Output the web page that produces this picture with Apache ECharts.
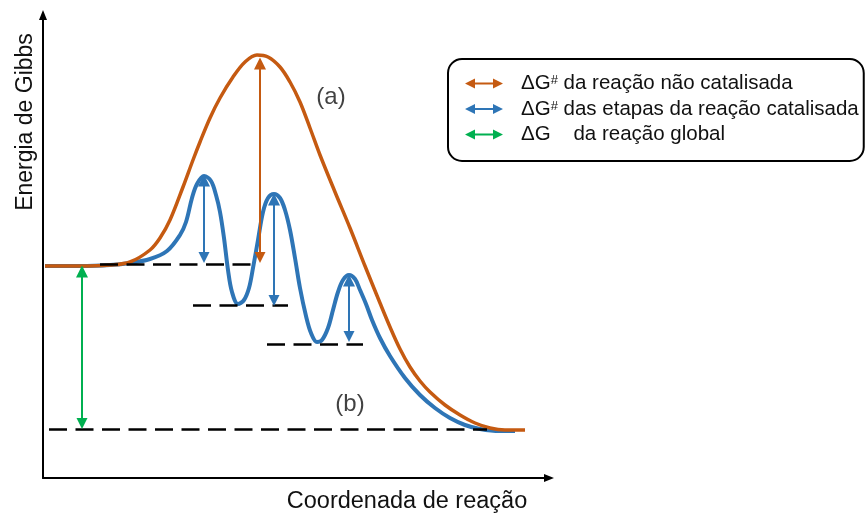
<!DOCTYPE html>
<html><head><meta charset="utf-8">
<script src="https://cdn.jsdelivr.net/npm/echarts@6/dist/echarts.min.js"></script>
<style>html,body{margin:0;padding:0;background:#fff}#c{width:868px;height:514px}</style>
</head><body><div id="c"></div>
<script>
// Reaction coordinate (x) vs Gibbs energy (y), arbitrary units
const uncatalysedPath = [[2,212],[37,212],[67,213],[87,216],[107,228],[117,240],[127,258],[140,291],[150,318],[157,336],[167,360],[177,380],[190,401],[202,416],[214,423],[225,421],[237,411],[247,396],[257,376],[267,350],[277,323],[292,286],[307,250],[322,212],[337,175],[347,151],[357,129],[367,111],[377,97],[387,86],[402,73],[417,63],[432,55],[447,50],[462,48],[482,48]];
const catalysedPath = [[2,212],[37,212],[67,213],[87,215],[107,219],[124,227],[137,243],[143,256],[149,280],[154,294],[161,302],[168,297],[173,283],[177,266],[181,240],[185,208],[189,186],[195,174],[201,178],[206,190],[210,210],[215,238],[220,266],[225,280],[231,284],[237,280],[242,268],[247,248],[252,220],[257,190],[263,162],[268,145],[274,136],[279,138],[285,150],[290,168],[295,186],[300,198],[306,203],[312,199],[317,188],[323,174],[329,158],[337,140],[347,122],[362,100],[377,83],[392,70],[407,60],[422,53],[437,49],[457,47],[472,47]];
// [xStart, xEnd, energy level]
const dashedLevels = [[57,215,214],[150,245,173],[224,320,134],[6,444,49]];
// [x, upper energy, lower energy]
const uncatArrows = [[217,420,215]];
const catArrows = [[161,303,215],[231,284,172],[306,203,136]];
const globalArrows = [[39,212,49]];
const curveLabels = [{name:'(a)', value:[288,381]},{name:'(b)', value:[307,74]}];
const legendKeys = ['uncat','cat','glob'];
const legendTexts = {
  uncat: '{g|ΔG}{s|#}{t| da reação não catalisada}',
  cat: '{g|ΔG}{s|#}{t| das etapas da reação catalisada}',
  glob: '{g|ΔG}{t|    da reação global}'
};
const yTitle = 'Energia de Gibbs';
const xTitle = 'Coordenada de reação';

const FONT = '"Liberation Sans", Arial, sans-serif';
const ORANGE = '#C55A11', BLUE = '#2E75B6', GREEN = '#00B050';
const HEAD = [12, 11];
const arrowIcon = 'path://M0,5 L10,0 L10,3.9 L28,3.9 L28,0 L38,5 L28,10 L28,6.1 L10,6.1 L10,10 Z';

function arrowData(list) {
  return list.map(([x, hi, lo]) => ({coords: [[x, hi - HEAD[1] / 2], [x, lo + HEAD[1] / 2]]}));
}
function arrowSeries(name, list, color) {
  return {
    type: 'lines', name: name, coordinateSystem: 'cartesian2d', z: 5,
    symbol: ['triangle', 'triangle'], symbolSize: HEAD,
    lineStyle: {color: color, width: 2, opacity: 1},
    itemStyle: {color: color},
    data: arrowData(list), silent: true, animation: false
  };
}

const chart = echarts.init(document.getElementById('c'), null, {renderer: 'canvas'});
chart.setOption({
  animation: false,
  backgroundColor: '#fff',
  grid: {left: 43, top: 15, width: 506, height: 463, containLabel: false, outerBoundsMode: 'none'},
  xAxis: {
    type: 'value', min: 0, max: 506,
    axisLine: {show: true, symbol: ['none', 'triangle'], symbolSize: [8, 10], lineStyle: {color: '#000', width: 2}},
    axisTick: {show: false}, axisLabel: {show: false}, splitLine: {show: false},
    name: xTitle, nameLocation: 'middle', nameGap: 12,
    nameTextStyle: {fontFamily: FONT, fontSize: 23.5, color: '#111', padding: [0, 0, 0, 222]}
  },
  yAxis: {
    type: 'value', min: 0, max: 463,
    axisLine: {show: true, symbol: ['none', 'triangle'], symbolSize: [8, 10], lineStyle: {color: '#000', width: 2}},
    axisTick: {show: false}, axisLabel: {show: false}, splitLine: {show: false},
    name: yTitle, nameLocation: 'middle', nameGap: 6, nameRotate: 90,
    nameTextStyle: {fontFamily: FONT, fontSize: 23, color: '#111', padding: [0, 0, 0, 249]}
  },
  legend: {
    orient: 'vertical', left: 448, top: 59,
    padding: [14, 5, 16, 17], itemGap: 4.5,
    itemWidth: 38, itemHeight: 10,
    borderColor: '#000', borderWidth: 2, borderRadius: 14,
    data: [
      {name: 'uncat', icon: arrowIcon, itemStyle: {color: ORANGE, borderWidth: 0}},
      {name: 'cat', icon: arrowIcon, itemStyle: {color: BLUE, borderWidth: 0}},
      {name: 'glob', icon: arrowIcon, itemStyle: {color: GREEN, borderWidth: 0}}
    ],
    formatter: n => legendTexts[n],
    textStyle: {
      fontFamily: FONT, fontSize: 20.5, color: '#111',
      rich: {
        g: {fontFamily: FONT, fontSize: 20.5, color: '#111', lineHeight: 21, padding: [0, 0, 0, 13]},
        s: {fontFamily: FONT, fontSize: 13, color: '#111', lineHeight: 13, verticalAlign: 'top', padding: [1, 0, 0, 0]},
        t: {fontFamily: FONT, fontSize: 20.5, color: '#111', lineHeight: 21}
      }
    },
    selectedMode: false
  },
  series: [
    {
      type: 'line', name: 'catCurve', data: catalysedPath, smooth: 0.35, showSymbol: false, z: 2,
      lineStyle: {color: BLUE, width: 4}, silent: true
    },
    {
      type: 'line', name: 'uncatCurve', data: uncatalysedPath, smooth: 0.35, showSymbol: false, z: 3,
      lineStyle: {color: ORANGE, width: 3.5}, silent: true
    },
    {
      type: 'lines', name: 'levels', coordinateSystem: 'cartesian2d', z: 4, symbol: 'none',
      lineStyle: {color: '#000', width: 2.5, type: [18, 8.5], opacity: 1},
      data: dashedLevels.map(([x1, x2, y]) => ({coords: [[x1, y], [x2, y]]})), silent: true
    },
    arrowSeries('uncat', uncatArrows, ORANGE),
    arrowSeries('cat', catArrows, BLUE),
    arrowSeries('glob', globalArrows, GREEN),
    {
      type: 'scatter', name: 'labels', data: curveLabels, symbolSize: 0, z: 6, silent: true,
      label: {show: true, position: 'inside', formatter: '{b}', fontFamily: FONT, fontSize: 24, color: '#111', align: 'center', verticalAlign: 'middle'}
    }
  ]
});
</script></body></html>
